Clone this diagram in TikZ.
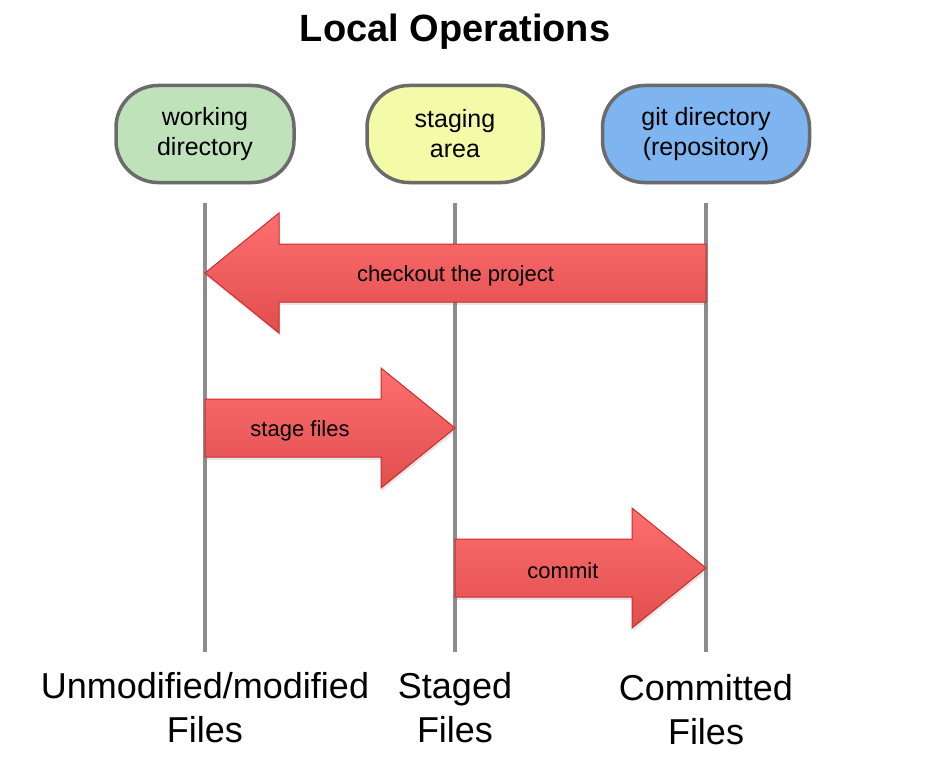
\documentclass[tikz,border=0pt]{standalone}
\usepackage{fontspec}
\setmainfont{Liberation Sans}
\usetikzlibrary{calc,shadows}

\definecolor{wdgreen}{HTML}{C0E2BB}
\definecolor{styellow}{HTML}{F3FBA9}
\definecolor{gdblue}{HTML}{7EB4EF}
\definecolor{boxgray}{HTML}{6B6B6B}
\definecolor{linegray}{HTML}{8C8C8C}
\definecolor{arrowtop}{HTML}{FF6F6F}
\definecolor{arrowbot}{HTML}{E04E4E}
\definecolor{arrowrim}{HTML}{CC2B2B}

\tikzset{
  area/.style={draw=boxgray, line width=3.5pt, rounded corners=42pt,
    minimum height=97pt, align=center, font=\fontsize{25}{30}\selectfont,
    drop shadow={opacity=0.15, shadow xshift=1pt, shadow yshift=-2pt}},
  lifeline/.style={draw=linegray, line width=3.5pt},
  flow/.style={draw=arrowrim, line width=1pt, top color=arrowtop, bottom color=arrowbot,
    drop shadow={opacity=0.2, shadow xshift=1pt, shadow yshift=-3pt}},
  flowtext/.style={font=\fontsize{22}{26}\selectfont, yshift=-2.5pt},
  filestate/.style={align=center, anchor=base, font=\fontsize{36}{44}\selectfont}
}

% block arrow from tail to tip: name, tail, tip, label position, label
\newcommand{\flowarrow}[5]{%
  \path (#2) coordinate (tail) (#3) coordinate (tip)
    ($(tip)!74pt!(tail)$) coordinate (head);
  \path[flow] ($(tail)!29pt!90:(tip)$) -- ($(head)!29pt!-90:(tail)$)
    -- ($(head)!60pt!-90:(tail)$) -- (tip)
    -- ($(head)!60pt!90:(tail)$) -- ($(head)!29pt!90:(tail)$)
    -- ($(tail)!29pt!-90:(tip)$) -- cycle;
  \node[flowtext] (#1) at ($(tail)!#4!(tip)$) {#5};
}

\begin{document}
\begin{tikzpicture}[x=1pt,y=-1pt]
  \useasboundingbox (0,0) rectangle (931,765);

  \node[anchor=base, font=\fontsize{38}{44}\selectfont\bfseries] (title) at (455,42) {Local Operations};

  % the three areas
  \node[area, fill=wdgreen, minimum width=178pt] (wd) at (205,134) {working\\directory};
  \node[area, fill=styellow, minimum width=176pt] (st) at (455,134) {staging\\area};
  \node[area, fill=gdblue, minimum width=207pt] (gd) at (706,134) {git directory\\(repository)};

  % lifelines
  \coordinate (wd top) at (wd.south |- 0,203);
  \coordinate (st top) at (st.south |- 0,203);
  \coordinate (gd top) at (gd.south |- 0,203);
  \coordinate (wd bot) at (wd.south |- 0,652);
  \coordinate (st bot) at (st.south |- 0,652);
  \coordinate (gd bot) at (gd.south |- 0,652);
  \draw[lifeline] (wd top) -- (wd bot);
  \draw[lifeline] (st top) -- (st bot);
  \draw[lifeline] (gd top) -- (gd bot);

  % operations
  \coordinate (gd checkout) at (gd top |- 0,273);
  \coordinate (wd checkout) at (wd top |- 0,273);
  \coordinate (wd stage) at (wd top |- 0,428);
  \coordinate (st stage) at (st top |- 0,428);
  \coordinate (st commit) at (st top |- 0,568);
  \coordinate (gd commit) at (gd top |- 0,568);
  \flowarrow{checkout}{gd checkout}{wd checkout}{0.5}{checkout the project}
  \flowarrow{stage}{wd stage}{st stage}{0.38}{stage files}
  \flowarrow{commit}{st commit}{gd commit}{0.43}{commit}

  % file states
  \node[filestate] (wd files) at (wd bot |- 0,742) {Unmodified/modified\\Files};
  \node[filestate] (st files) at (st bot |- 0,742) {Staged\\Files};
  \node[filestate] (gd files) at (gd bot |- 0,744) {Committed\\Files};
\end{tikzpicture}
\end{document}
